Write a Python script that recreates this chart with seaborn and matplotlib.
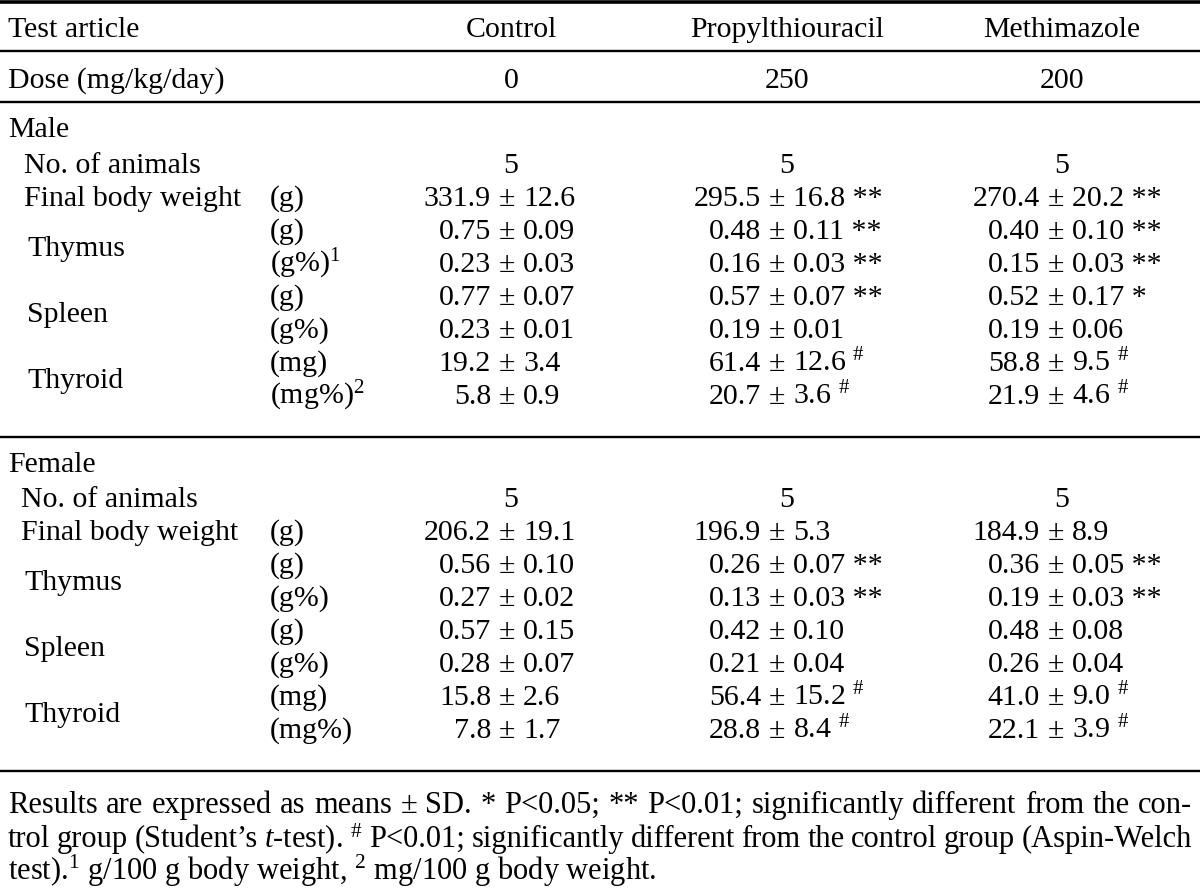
import matplotlib
matplotlib.use("Agg")
import matplotlib.pyplot as plt
import seaborn as sns

# ---- table content ----
groups = ["Control", "Propylthiouracil", "Methimazole"]
doses = ["0", "250", "200"]
n_animals = [5, 5, 5]

organs = ["Final body weight", "Thymus", "Spleen", "Thyroid"]
male_units = ["(g)", "(g)", "(g%)$^{\\mathrm{1}}$", "(g)", "(g%)", "(mg)", "(mg%)$^{\\mathrm{2}}$"]
female_units = ["(g)", "(g)", "(g%)", "(g)", "(g%)", "(mg)", "(mg%)"]
decimals = [1, 2, 2, 2, 2, 1, 1]

male_mean = [[331.9, 295.5, 270.4], [0.75, 0.48, 0.40], [0.23, 0.16, 0.15],
             [0.77, 0.57, 0.52], [0.23, 0.19, 0.19], [19.2, 61.4, 58.8], [5.8, 20.7, 21.9]]
male_sd = [[12.6, 16.8, 20.2], [0.09, 0.11, 0.10], [0.03, 0.03, 0.03],
           [0.07, 0.07, 0.17], [0.01, 0.01, 0.06], [3.4, 12.6, 9.5], [0.9, 3.6, 4.6]]
male_sig = [["", "**", "**"], ["", "**", "**"], ["", "**", "**"],
            ["", "**", "*"], ["", "", ""], ["", "#", "#"], ["", "#", "#"]]

female_mean = [[206.2, 196.9, 184.9], [0.56, 0.26, 0.36], [0.27, 0.13, 0.19],
               [0.57, 0.42, 0.48], [0.28, 0.21, 0.26], [15.8, 56.4, 41.0], [7.8, 28.8, 22.1]]
female_sd = [[19.1, 5.3, 8.9], [0.10, 0.07, 0.05], [0.02, 0.03, 0.03],
             [0.15, 0.10, 0.08], [0.07, 0.04, 0.04], [2.6, 15.2, 9.0], [1.7, 8.4, 3.9]]
female_sig = [["", "", ""], ["", "**", "**"], ["", "**", "**"],
              ["", "", ""], ["", "", ""], ["", "#", "#"], ["", "#", "#"]]

footnote = [
    "Results are expressed as means \u00b1 SD. * P<0.05; ** P<0.01; significantly different from the con-",
    "trol group (Student\u2019s $\\mathit{t}$-test). $^{\\#}$ P<0.01; significantly different from the control group (Aspin-Welch",
    "test).$^{\\mathrm{1}}$ g/100 g body weight, $^{\\mathrm{2}}$ mg/100 g body weight.",
]

# ---- layout (pixels) ----
W, H = 1200, 890
FS = 21.5
FS_NOTE = 22
BASE = 10
col_center = [511, 787, 1062]
col_pm = [507, 777, 1056]
unit_x = 270
row_step = 33

sns.set_theme(style="white")
plt.rcParams["font.family"] = ["Liberation Serif", "DejaVu Serif"]
plt.rcParams["mathtext.fontset"] = "custom"
plt.rcParams["mathtext.rm"] = "Liberation Serif"
plt.rcParams["mathtext.it"] = "Liberation Serif:italic"
plt.rcParams["mathtext.bf"] = "Liberation Serif:bold"

fig = plt.figure(figsize=(W / 100, H / 100), dpi=100)
ax = fig.add_axes([0, 0, 1, 1])
ax.set_xlim(0, W)
ax.set_ylim(H, 0)
ax.axis("off")


def put(x, yc, s, ha="left", fs=FS):
    return ax.text(x, yc + BASE, s, ha=ha, va="baseline", fontsize=fs, color="black")


# rules
ax.hlines([2], 0, W, color="black", lw=2.6)
ax.hlines([51, 102, 437, 771], 0, W, color="black", lw=1.7)

# header rows
put(8, 27, "Test article")
put(8, 78, "Dose (mg/kg/day)")
for i in range(3):
    put(col_center[i], 27, groups[i], ha="center")
    put(col_center[i], 78, doses[i], ha="center")


def section(title, title_y, y0, indent, units, means, sds, sigs):
    put(8, title_y, title)
    put(indent, y0, "No. of animals")
    for i in range(3):
        put(col_center[i], y0, str(n_animals[i]), ha="center")
    ys = [y0 + row_step * (k + 1) for k in range(len(means))]
    put(indent, ys[0], organs[0])
    for j, organ in enumerate(organs[1:]):
        put(indent + 3, (ys[1 + 2 * j] + ys[2 + 2 * j]) / 2, organ)
    for k, y in enumerate(ys):
        put(unit_x, y, units[k])
        d = decimals[k]
        for i in range(3):
            put(col_pm[i] - 16, y, f"{means[k][i]:.{d}f}", ha="right")
            put(col_pm[i], y, "\u00b1", ha="center")
            sd = f"{sds[k][i]:.{d}f}"
            if sigs[k][i] == "#":
                sd += " $^{\\#}$"
            elif sigs[k][i]:
                sd += " " + sigs[k][i]
            put(col_pm[i] + 16, y, sd)


section("Male", 127, 163, 24, male_units, male_mean, male_sd, male_sig)
section("Female", 462, 497, 21, female_units, female_mean, female_sd, female_sig)

# footnote, first two lines justified
renderer = fig.canvas.get_renderer()
note_y = [803, 837, 870]
for li, line in enumerate(footnote):
    if li == 2:
        put(8, note_y[li], line, fs=FS_NOTE)
        continue
    words = line.split(" ")
    texts = [put(0, note_y[li], w, fs=FS_NOTE) for w in words]
    widths = [t.get_window_extent(renderer).width for t in texts]
    gap = (W - 16 - sum(widths)) / (len(words) - 1)
    x = 8
    for t, w in zip(texts, widths):
        t.set_x(x)
        x += w + gap

fig.savefig("out.png", dpi=100)
